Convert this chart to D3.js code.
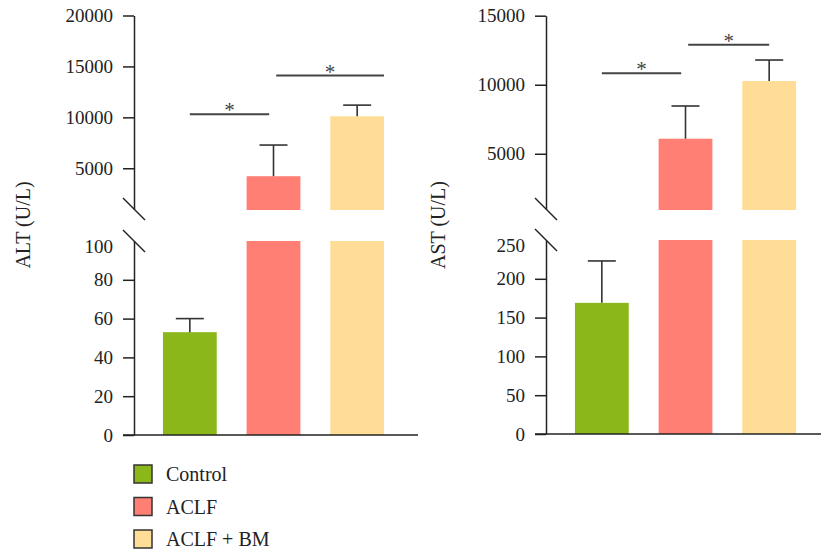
<!DOCTYPE html>
<html>
<head>
<meta charset="utf-8">
<script src="https://cdn.jsdelivr.net/npm/d3@7"></script>
<style>
  body { margin: 0; background: #fff; }
  svg { display: block; }
  svg text { font-family: "Liberation Serif", "Times New Roman", Times, "DejaVu Serif", serif !important; }
</style>
</head>
<body>
<div id="chart"></div>
<script>
const groups = ["Control", "ACLF", "ACLF + BM"];
const colors = ["#8bb71a", "#ff7f75", "#ffdd96"];

// ALT (U/L): mean and upper SD
const altMean = [53, 4220, 10100];
const altSd = [7, 3060, 1100];
const altTopTicks = [5000, 10000, 15000, 20000];
const altBottomTicks = [0, 20, 40, 60, 80, 100];

// AST (U/L)
const astMean = [169, 6090, 10270];
const astSd = [54, 2370, 1520];
const astTopTicks = [5000, 10000, 15000];
const astBottomTicks = [0, 50, 100, 150, 200, 250];

// significance bars: from group a to group b, at value v (top segment)
const altSig = [
  { a: 0, fa: 0.5, b: 1, fb: 0.42, v: 10300 },
  { a: 1, fa: 0.55, b: 2, fb: 1.0, v: 14100 }
];
const astSig = [
  { a: 0, fa: 0.5, b: 1, fb: 0.42, v: 10830 },
  { a: 1, fa: 0.55, b: 2, fb: 0.5, v: 12900 }
];

const width = 821, height = 557;
const svg = d3.select("#chart").append("svg")
  .attr("width", width)
  .attr("height", height);

const panels = [
  {
    label: "ALT (U/L)", axisX: 134, xEnd: 418, labelX: 23,
    mean: altMean, sd: altSd, sig: altSig,
    topDomain: [1000, 20000], topRange: [209, 15.5], topTicks: altTopTicks,
    botDomain: [0, 100], botRange: [435, 241], botTicks: altBottomTicks
  },
  {
    label: "AST (U/L)", axisX: 546, xEnd: 821, labelX: 438,
    mean: astMean, sd: astSd, sig: astSig,
    topDomain: [1000, 15000], topRange: [209, 15.7], topTicks: astTopTicks,
    botDomain: [0, 250], botRange: [434, 240], botTicks: astBottomTicks
  }
];

function drawPanel(p) {
  const g = svg.append("g");
  const x = d3.scaleBand()
    .domain(groups)
    .range([p.axisX + 14, p.axisX + 14 + 251])
    .paddingInner(30 / 84)
    .paddingOuter(15 / 84);
  const yTop = d3.scaleLinear().domain(p.topDomain).range(p.topRange);
  const yBot = d3.scaleLinear().domain(p.botDomain).range(p.botRange);
  const botMax = p.botDomain[1];

  // bars
  groups.forEach((grp, i) => {
    const m = p.mean[i];
    const x0 = x(grp);
    if (m > botMax) {
      g.append("rect")
        .attr("x", x0).attr("width", x.bandwidth())
        .attr("y", yBot(botMax)).attr("height", yBot(0) - yBot(botMax))
        .attr("fill", colors[i]);
      g.append("rect")
        .attr("x", x0).attr("width", x.bandwidth())
        .attr("y", yTop(m)).attr("height", yTop(p.topDomain[0]) - yTop(m) + 1)
        .attr("fill", colors[i]);
    } else {
      g.append("rect")
        .attr("x", x0).attr("width", x.bandwidth())
        .attr("y", yBot(m)).attr("height", yBot(0) - yBot(m))
        .attr("fill", colors[i]);
    }
    // error bar (upper only)
    const y = m > botMax ? yTop : yBot;
    const cx = x0 + x.bandwidth() / 2;
    g.append("line")
      .attr("x1", cx).attr("x2", cx)
      .attr("y1", y(m)).attr("y2", y(m + p.sd[i]))
      .attr("stroke", "#333").attr("stroke-width", 1.6);
    g.append("line")
      .attr("x1", cx - 14).attr("x2", cx + 14)
      .attr("y1", y(m + p.sd[i])).attr("y2", y(m + p.sd[i]))
      .attr("stroke", "#333").attr("stroke-width", 1.6);
  });

  // significance lines
  p.sig.forEach(s => {
    const x1 = x(groups[s.a]) + s.fa * x.bandwidth();
    const x2 = x(groups[s.b]) + s.fb * x.bandwidth();
    const yy = yTop(s.v);
    g.append("line")
      .attr("x1", x1).attr("x2", x2).attr("y1", yy).attr("y2", yy)
      .attr("stroke", "#444").attr("stroke-width", 2);
    g.append("text")
      .attr("x", (x1 + x2) / 2).attr("y", yy + 3)
      .attr("text-anchor", "middle")
      .attr("font-size", 21).attr("fill", "#444")
      .text("*");
  });

  // axes
  const styleAxis = (sel, maxVal) => {
    sel.attr("font-family", null);
    sel.selectAll("path.domain").attr("stroke", "#222").attr("stroke-width", 1.5);
    sel.selectAll(".tick line").attr("stroke", "#222").attr("stroke-width", 1.5);
    sel.selectAll(".tick text")
      .attr("font-size", 19)
      .attr("fill", "#222");
    sel.selectAll(".tick").filter(d => d === maxVal).select("line").remove();
    sel.selectAll(".tick").filter(d => d === maxVal).select("text").attr("dy", "0.6em");
  };

  const topAxis = g.append("g")
    .attr("transform", `translate(${p.axisX},0)`)
    .call(d3.axisLeft(yTop).tickValues(p.topTicks).tickFormat(d3.format("d"))
      .tickSize(11).tickSizeOuter(0).tickPadding(10));
  styleAxis(topAxis, null);

  const botAxis = g.append("g")
    .attr("transform", `translate(${p.axisX},0)`)
    .call(d3.axisLeft(yBot).tickValues(p.botTicks).tickFormat(d3.format("d"))
      .tickSize(11).tickSizeOuter(0).tickPadding(10));
  styleAxis(botAxis, botMax);

  // break marks
  [p.topRange[0], p.botRange[1]].forEach(by => {
    g.append("line")
      .attr("x1", p.axisX - 11).attr("x2", p.axisX + 11)
      .attr("y1", by - 11).attr("y2", by + 11)
      .attr("stroke", "#222").attr("stroke-width", 1.5);
  });

  // x axis baseline
  g.append("line")
    .attr("x1", p.axisX - 11).attr("x2", p.xEnd)
    .attr("y1", yBot(0)).attr("y2", yBot(0))
    .attr("stroke", "#222").attr("stroke-width", 1.6);

  // y label
  g.append("text")
    .attr("transform", `translate(${p.labelX},225) rotate(-90)`)
    .attr("text-anchor", "middle")
    .attr("dominant-baseline", "central")
    .attr("font-size", 20)
    .attr("fill", "#222")
    .text(p.label);
}

panels.forEach(drawPanel);

// legend
const legend = svg.append("g").attr("transform", "translate(134,474)");
groups.forEach((grp, i) => {
  const row = legend.append("g").attr("transform", `translate(0,${i * 32.5})`);
  row.append("rect")
    .attr("x", 0).attr("y", -9).attr("width", 18).attr("height", 18)
    .attr("fill", colors[i]).attr("stroke", "#333").attr("stroke-width", 1.5);
  row.append("text")
    .attr("x", 32).attr("y", 0)
    .attr("dominant-baseline", "central")
    .attr("font-size", 20).attr("fill", "#222")
    .text(grp);
});
</script>
</body>
</html>
